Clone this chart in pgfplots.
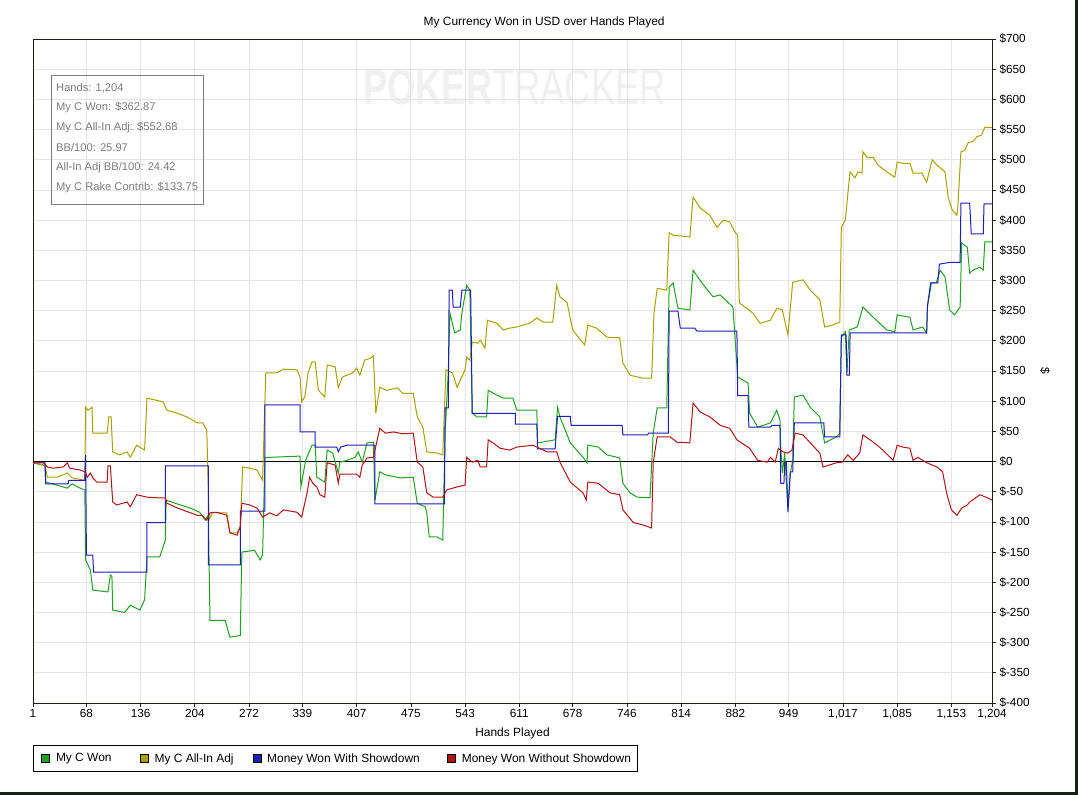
\documentclass[border=0pt]{standalone}
\usepackage{pgfplots}
\pgfplotsset{compat=1.18}
\usepackage{fontspec}
\setmainfont{Liberation Sans}
\definecolor{mygreen}{RGB}{34,160,34}
\definecolor{myolive}{RGB}{170,160,0}
\definecolor{myblue}{RGB}{30,30,185}
\definecolor{myred}{RGB}{175,20,20}
\definecolor{gridc}{RGB}{232,228,228}
\definecolor{framec}{RGB}{20,36,20}
\definecolor{infoc}{RGB}{125,125,125}
\definecolor{wmark}{RGB}{240,240,240}
\begin{document}
\begin{tikzpicture}
\useasboundingbox (0bp,0bp) rectangle (1078bp,795bp);
\fill[white] (0bp,0bp) rectangle (1078bp,795bp);
% watermark
\node[text=wmark,inner sep=0pt] at (514.5bp,707.5bp) {\resizebox{303bp}{35bp}{\bfseries POKER\mdseries TRACKER}};
\begin{axis}[
  at={(33bp,92bp)}, anchor=south west,
  scale only axis, width=959bp, height=664bp,
  xmin=1, xmax=1204, ymin=-400, ymax=700,
  axis line style={framec, line width=0.8bp},
  xtick={1,68,136,204,272,339,407,475,543,611,678,746,814,882,949,1017,1085,1153,1204},
  xticklabels={1,68,136,204,272,339,407,475,543,611,678,746,814,882,949,{1,017},{1,085},{1,153},{1,204}},
  ytick={-400,-350,...,700},
  yticklabels={\$-400,\$-350,\$-300,\$-250,\$-200,\$-150,\$-100,\$-50,\$0,\$50,\$100,\$150,\$200,\$250,\$300,\$350,\$400,\$450,\$500,\$550,\$600,\$650,\$700},
  xtick pos=lower, ytick pos=right, yticklabel pos=right,
  tick align=outside, major tick length=4bp,
  tick style={framec, line width=0.7bp},
  ticklabel style={font=\fontsize{11.8}{13}\selectfont, text=black},
  xticklabel style={yshift=1bp},
  grid=major, major grid style={gridc, line width=0.8bp},
  title={My Currency Won in USD over Hands Played},
  title style={at={(axis description cs:0.533,1)}, anchor=center, yshift=11bp, font=\fontsize{12}{13}\selectfont},
  xlabel={Hands Played},
  xlabel style={at={(axis description cs:0.5,0)}, anchor=center, yshift=-30bp, font=\fontsize{12}{13}\selectfont},
  ylabel={\$},
  ylabel style={at={(axis description cs:1.0553,0.5)}, anchor=center, rotate=180, font=\fontsize{12}{13}\selectfont},
  legend columns=4,
  legend style={at={(axis description cs:0,-0.0633)}, anchor=north west, draw=black, line width=0.8bp,
    inner xsep=8bp, inner ysep=8bp, column sep=0pt, row sep=0pt,
    nodes={inner sep=0pt, anchor=west}, font=\fontsize{12}{13}\selectfont},
]
\addplot[black, line width=0.8bp, forget plot] coordinates {(1,0) (1204,0)};
\addplot[mygreen, line width=1bp, legend image code/.code={\draw[fill=mygreen,draw=black,line width=0.6bp] (0bp,-4bp) rectangle (8bp,4bp);}] coordinates {
(1,-2)(16,-7)(17,-34)(44,-44)(50,-37)(60,-44)(66,-47)(67,-163)(73,-180)(76,-213)(95,-216)(98,-188)(100,-190)(101,-246)(116,-250)(123,-238)(135,-246)(141,-229)(144,-158)(160,-158)(167,-130)(168,-64)(179,-69)(198,-77)(210,-84)(217,-97)(221,-89)(223,-263)(242,-263)(248,-291)(261,-288)(263,-150)(279,-147)(286,-163)(289,-155)(292,7)(298,7)(336,9)(337,-42)(343,2)(351,27)(355,27)(357,-26)(367,-34)(370,19)(377,14)(384,-19)(386,-1)(395,2)(405,7)(409,16)(414,-1)(420,31)(428,32)(430,-64)(436,-17)(443,-22)(461,-27)(478,-26)(483,-69)(493,-75)(495,-85)(498,-125)(508,-125)(515,-130)(518,47)(522,152)(524,246)(530,213)(537,218)(539,246)(545,292)(549,284)(552,80)(558,74)(570,74)(572,118)(583,110)(591,105)(603,105)(608,85)(633,85)(634,31)(639,32)(656,36)(659,90)(662,74)(675,31)(691,7)(696,-2)(697,27)(710,24)(721,11)(737,6)(741,-36)(750,-52)(759,-59)(775,-60)(779,47)(784,89)(796,89)(799,289)(804,296)(810,254)(825,251)(829,317)(840,296)(854,273)(863,276)(879,256)(885,140)(898,130)(900,80)(910,57)(926,64)(934,85)(938,69)(939,24)(941,-19)(944,14)(948,-80)(951,-19)(954,2)(956,107)(967,110)(976,90)(988,74)(994,31)(1009,41)(1013,47)(1015,206)(1020,215)(1022,147)(1025,218)(1035,223)(1042,256)(1055,239)(1072,218)(1082,215)(1085,243)(1101,239)(1105,218)(1117,223)(1122,213)(1123,256)(1128,296)(1134,296)(1139,317)(1145,306)(1151,251)(1157,243)(1164,256)(1166,362)(1173,355)(1176,312)(1180,317)(1189,322)(1193,317)(1195,364)(1204,364)};
\addlegendentry{\makebox[90bp][l]{\hspace{6bp}My C Won}}
\addplot[myolive, line width=1bp, legend image code/.code={\draw[fill=myolive,draw=black,line width=0.6bp] (0bp,-4bp) rectangle (8bp,4bp);}] coordinates {
(1,-2)(16,-6)(19,-26)(31,-26)(44,-19)(50,-27)(66,-31)(67,90)(70,85)(75,90)(76,47)(94,47)(96,74)(99,74)(101,16)(110,11)(119,16)(123,7)(131,27)(141,19)(144,105)(154,102)(164,99)(169,85)(182,80)(194,74)(207,64)(214,64)(219,52)(222,-97)(226,-84)(232,-85)(244,-85)(248,-118)(257,-118)(261,-108)(264,-9)(273,-11)(282,-14)(289,-31)(293,147)(307,147)(315,153)(332,152)(336,140)(338,99)(342,107)(346,147)(351,165)(355,165)(359,118)(367,107)(370,160)(380,157)(384,122)(389,140)(402,147)(407,155)(411,143)(417,168)(424,171)(428,175)(431,80)(436,123)(445,118)(458,122)(465,113)(478,113)(483,74)(490,57)(495,16)(508,14)(515,11)(519,152)(527,147)(533,123)(543,152)(545,173)(549,168)(552,198)(559,196)(562,201)(568,188)(571,234)(583,229)(591,218)(599,221)(608,223)(624,229)(633,238)(641,231)(653,231)(658,292)(662,273)(671,263)(678,218)(693,193)(697,226)(708,221)(721,206)(737,205)(741,163)(750,143)(766,138)(777,138)(780,246)(784,287)(796,284)(799,379)(804,375)(825,372)(829,438)(838,420)(850,408)(859,388)(867,400)(875,397)(882,379)(885,375)(887,263)(904,246)(913,229)(926,234)(934,254)(941,251)(948,210)(954,297)(967,301)(976,284)(988,268)(994,223)(1004,226)(1013,231)(1015,388)(1020,400)(1024,455)(1026,480)(1032,470)(1036,480)(1041,478)(1042,513)(1048,503)(1055,504)(1061,491)(1072,480)(1082,471)(1085,496)(1092,494)(1101,494)(1105,478)(1116,478)(1122,463)(1129,500)(1135,491)(1145,480)(1149,438)(1154,417)(1160,408)(1161,420)(1165,513)(1170,516)(1174,528)(1180,530)(1185,538)(1191,541)(1195,554)(1204,553)};
\addlegendentry{\makebox[104bp][l]{\hspace{6bp}My C All-In Adj}}
\addplot[myblue, line width=1bp, legend image code/.code={\draw[fill=myblue,draw=black,line width=0.6bp] (0bp,-4bp) rectangle (8bp,4bp);}] coordinates {
(1,-1)(16,-1)(17,-37)(45,-37)(46,-31)(66,-31)(67,11)(68,-155)(76,-155)(77,-183)(144,-183)(144,-101)(167,-101)(167,-7)(221,-7)(221,-171)(261,-171)(261,-82)(292,-82)(292,94)(336,94)(336,49)(355,49)(355,24)(382,24)(384,16)(387,24)(395,27)(430,27)(430,-70)(517,-70)(518,89)(522,89)(523,284)(527,284)(528,256)(537,256)(539,284)(550,284)(552,80)(606,80)(606,62)(633,62)(634,21)(656,21)(659,75)(675,75)(676,60)(740,60)(741,44)(772,44)(773,47)(798,47)(799,249)(810,249)(813,221)(831,221)(834,216)(884,216)(885,109)(898,109)(899,57)(926,57)(928,60)(938,60)(939,-36)(943,-36)(944,-1)(946,-1)(948,-84)(951,-17)(954,-17)(956,64)(993,64)(994,41)(1013,41)(1015,210)(1021,210)(1022,143)(1025,143)(1026,213)(1122,213)(1123,258)(1127,296)(1136,296)(1138,327)(1151,330)(1164,330)(1165,428)(1176,428)(1178,377)(1193,377)(1194,427)(1204,427)};
\addlegendentry{\makebox[186bp][l]{\hspace{6bp}Money Won With Showdown}}
\addplot[myred, line width=1bp, legend image code/.code={\draw[fill=myred,draw=black,line width=0.6bp] (0bp,-4bp) rectangle (8bp,4bp);}] coordinates {
(1,-2)(14,-2)(19,-9)(26,-11)(39,-9)(44,-2)(47,-11)(60,-14)(66,-17)(69,-26)(73,-19)(76,-27)(81,-34)(94,-34)(95,-7)(98,-7)(101,-67)(106,-72)(119,-67)(123,-75)(131,-55)(144,-59)(157,-60)(167,-60)(169,-69)(182,-77)(207,-89)(213,-89)(219,-97)(223,-85)(232,-84)(244,-89)(248,-118)(257,-122)(261,-108)(263,-69)(273,-72)(282,-77)(289,-92)(298,-85)(307,-90)(315,-80)(332,-84)(338,-92)(345,-51)(348,-26)(352,-36)(357,-42)(361,-55)(367,-59)(370,-2)(380,-6)(384,-36)(386,-21)(407,-21)(411,-26)(414,-6)(420,6)(428,7)(436,55)(443,47)(453,49)(465,46)(478,47)(483,-1)(490,-9)(495,-52)(503,-59)(515,-59)(520,-47)(533,-42)(543,-39)(545,7)(552,-1)(559,2)(562,-9)(570,-9)(572,36)(578,31)(587,22)(599,19)(608,24)(628,27)(646,16)(658,16)(662,-1)(675,-34)(691,-52)(695,-64)(697,-34)(710,-36)(725,-52)(737,-55)(741,-80)(754,-101)(766,-105)(777,-110)(779,-2)(784,41)(800,41)(809,32)(825,31)(829,97)(838,82)(850,74)(863,60)(875,55)(884,36)(900,22)(910,2)(922,-1)(926,7)(932,-1)(936,22)(942,16)(948,14)(953,19)(957,47)(967,44)(976,31)(988,14)(992,-9)(1009,-2)(1016,-1)(1023,11)(1030,2)(1038,14)(1042,44)(1051,36)(1060,27)(1067,19)(1080,2)(1085,27)(1092,24)(1101,22)(1105,2)(1111,7)(1122,-2)(1135,-9)(1142,-17)(1147,-52)(1153,-80)(1160,-89)(1166,-77)(1173,-72)(1176,-67)(1189,-55)(1198,-60)(1204,-64)};
\addlegendentry{\makebox[174bp][l]{\hspace{6bp}Money Won Without Showdown}}
\end{axis}
% info box
\draw[infoc, line width=0.8bp] (51bp,720bp) rectangle (203bp,591bp);
\begin{scope}[every node/.style={anchor=west, text=infoc, inner sep=0pt, font=\fontsize{11.2}{13}\selectfont}]
\node at (56bp,707bp) {Hands: 1,204};
\node at (56bp,687bp) {My C Won: \$362.87};
\node at (56bp,667bp) {My C All-In Adj: \$552.68};
\node at (56bp,647bp) {BB/100: 25.97};
\node at (56bp,627bp) {All-In Adj BB/100: 24.42};
\node at (56bp,607bp) {My C Rake Contrib: \$133.75};
\end{scope}
% frame shadow
\fill[framec] (1075bp,0bp) rectangle (1078bp,795bp);
\fill[framec] (0bp,0bp) rectangle (1078bp,3bp);
\end{tikzpicture}
\end{document}
